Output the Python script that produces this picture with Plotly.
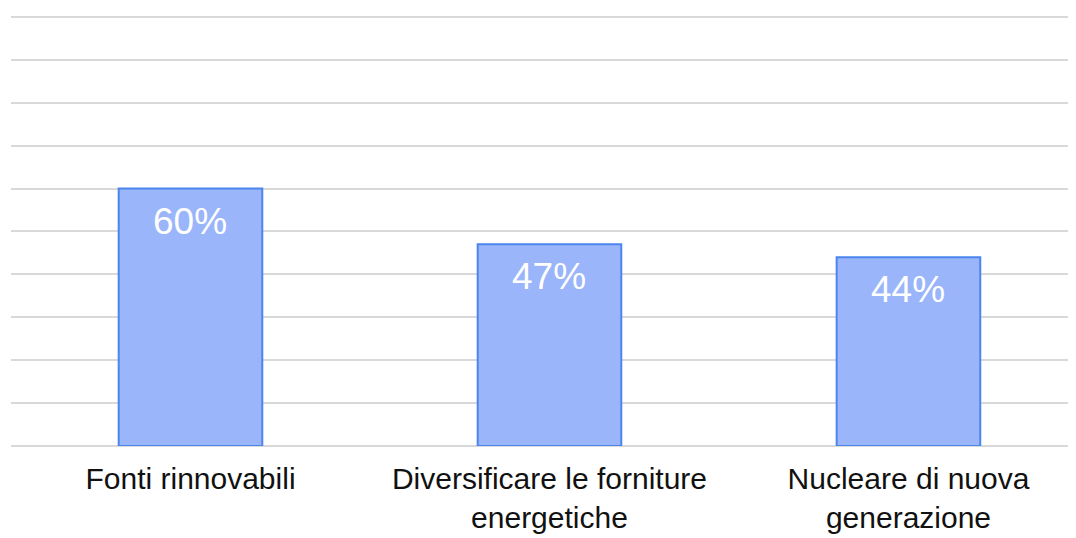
import plotly.graph_objects as go

categories = ["Fonti rinnovabili", "Diversificare le forniture<br>energetiche", "Nucleare di nuova<br>generazione"]
shares = [0.60, 0.47, 0.44]
labels = ["60%", "47%", "44%"]

fig = go.Figure()
fig.add_bar(
    x=categories, y=shares, width=0.4,
    marker=dict(color="#9ab5f9", line=dict(color="#4a86ee", width=2)),
    showlegend=False, hoverinfo="skip",
)

# percentage labels sit just under the top of each bar
for cat, val, lab in zip(categories, shares, labels):
    fig.add_annotation(x=cat, y=val, text=lab, showarrow=False,
                       yanchor="top", yshift=-10,
                       font=dict(family="Liberation Sans, Arial", size=37, color="white"))

fig.update_xaxes(range=[-0.5, 2.489], showgrid=False, showline=False, ticks="",
                 ticklabelstandoff=12,
                 tickfont=dict(family="Liberation Sans, Arial", size=30, color="#111111"))
fig.update_yaxes(range=[0, 1.0093], dtick=0.1, showticklabels=False, showgrid=True,
                 gridcolor="#d9d9d9", gridwidth=2, zeroline=True, zerolinecolor="#d9d9d9",
                 zerolinewidth=2)

fig.update_layout(
    width=1076, height=538,
    plot_bgcolor="white", paper_bgcolor="white",
    margin=dict(l=3, r=0, t=5, b=100),
)

fig.write_html("out.html")
